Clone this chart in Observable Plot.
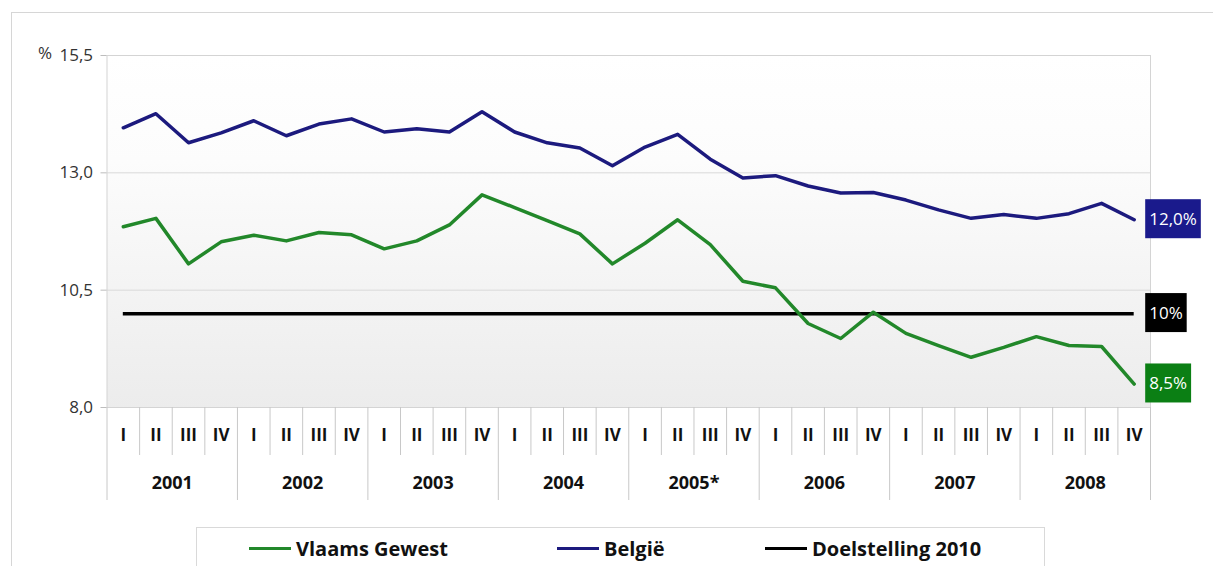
<!DOCTYPE html>
<html>
<head>
<meta charset="utf-8">
<script src="https://cdn.jsdelivr.net/npm/d3@7"></script>
<script src="https://cdn.jsdelivr.net/npm/@observablehq/plot@0.6"></script>
<style>
  html, body { margin: 0; padding: 0; background: #fff; }
  body { width: 1213px; height: 566px; overflow: hidden; position: relative; font-family: "Open Sans", sans-serif; }
  #frame { position: absolute; left: 11px; top: 12px; width: 1300px; height: 700px; border: 1.5px solid #d6d6d6; box-sizing: border-box; }
  #chart { position: absolute; left: 0; top: 0; }
  #legend { position: absolute; left: 196px; top: 527px; width: 849px; height: 60px; border: 1px solid #d9d9d9; box-sizing: border-box; background: #fff; }
  .item { position: absolute; top: 7px; display: flex; align-items: center; font-weight: bold; font-size: 20px; color: #111; }
  .swatch { width: 42px; height: 3.5px; margin-right: 5px; }
</style>
</head>
<body>
<div id="frame"></div>
<div id="chart"></div>
<div id="legend"></div>
<script>
// Quarterly series, 2001 Q1 – 2008 Q4 (percent)
const quarters = ["I", "II", "III", "IV"];
const years = ["2001", "2002", "2003", "2004", "2005*", "2006", "2007", "2008"];
const vlaamsGewest = [
  11.85, 12.03, 11.06, 11.53,
  11.67, 11.55, 11.73, 11.68,
  11.38, 11.55, 11.89, 12.53,
  12.26, 11.98, 11.70, 11.06,
  11.50, 12.00, 11.47, 10.69,
  10.55, 9.79, 9.47, 10.03,
  9.58, 9.32, 9.07, 9.28,
  9.51, 9.32, 9.30, 8.5
];
const belgie = [
  13.96, 14.26, 13.64, 13.85,
  14.11, 13.79, 14.04, 14.15,
  13.87, 13.94, 13.87, 14.30,
  13.87, 13.64, 13.53, 13.15,
  13.55, 13.82, 13.29, 12.89,
  12.94, 12.72, 12.57, 12.58,
  12.42, 12.21, 12.03, 12.11,
  12.03, 12.13, 12.35, 12.0
];
const doelstelling = 10;
const yTicks = [8, 10.5, 13, 15.5];

const seriesNames = ["Vlaams Gewest", "België", "Doelstelling 2010"];
const seriesColors = ["#22882a", "#1c1a7e", "#000000"];
const labelFills = ["#0b7f14", "#1a1a8c", "#000000"];

const comma = (v, digits) => v.toFixed(digits).replace(".", ",");

// long-format rows for the two measured series
const idx = d3.range(years.length * quarters.length);
const rows = [
  ...idx.map(i => ({i, value: vlaamsGewest[i], series: seriesNames[0]})),
  ...idx.map(i => ({i, value: belgie[i], series: seriesNames[1]}))
];
const last = idx.length - 1;

// value boxes at the right end of each line
const endLabels = [
  {value: belgie[last], text: comma(belgie[last], 1) + "%", fill: labelFills[1]},
  {value: doelstelling, text: comma(doelstelling, 0) + "%", fill: labelFills[2]},
  {value: vlaamsGewest[last], text: comma(vlaamsGewest[last], 1) + "%", fill: labelFills[0]}
];

// category boundaries: between quarters (short) and between years (long)
const quarterBounds = idx.filter(i => i % 4 !== 0).map(i => i - 0.5);
const yearBounds = d3.range(0, idx.length + 1, 4).map(i => i - 0.5);

const background = () => {
  const defs = d3.create("svg:defs");
  const g = defs.append("linearGradient").attr("id", "plotBg")
    .attr("x1", 0).attr("y1", 0).attr("x2", 0).attr("y2", 1);
  g.append("stop").attr("offset", "0%").attr("stop-color", "#ffffff");
  g.append("stop").attr("offset", "30%").attr("stop-color", "#fcfcfc");
  g.append("stop").attr("offset", "100%").attr("stop-color", "#ececec");
  return defs.node();
};

const chart = Plot.plot({
  width: 1213,
  height: 520,
  marginLeft: 106.5,
  marginRight: 63,
  marginTop: 55,
  marginBottom: 113,
  style: {fontFamily: "'Open Sans', sans-serif", color: "#222", background: "transparent", overflow: "visible"},
  x: {type: "linear", domain: [-0.5, idx.length - 0.5], axis: null},
  y: {domain: [8, 15.5], axis: null},
  color: {domain: seriesNames, range: seriesColors},
  marks: [
    background,
    Plot.frame({fill: "url(#plotBg)"}),
    Plot.gridY(yTicks, {stroke: "#d9d9d9", strokeOpacity: 1}),
    Plot.frame({stroke: "#d4d4d4"}),
    Plot.axisY(yTicks, {
      tickSize: 6, tickPadding: 8, stroke: "#bdbdbd", fill: "#333", fontSize: 17,
      tickFormat: d => comma(d, 1), label: null
    }),
    Plot.text(["%"], {frameAnchor: "top-left", dx: -69, dy: -9, fontSize: 17, fill: "#333"}),
    Plot.axisX(quarterBounds, {tickSize: 48, tickFormat: () => "", stroke: "#c8c8c8", label: null}),
    Plot.axisX(yearBounds, {tickSize: 93, tickFormat: () => "", stroke: "#c8c8c8", label: null}),
    Plot.text(idx, {
      x: d => d, frameAnchor: "bottom", dy: 33,
      text: d => quarters[d % 4], fontSize: 17, fontWeight: "bold", fill: "#111"
    }),
    Plot.text(years, {
      x: (d, k) => k * 4 + 1.5, frameAnchor: "bottom", dy: 81,
      text: d => d, fontSize: 18, fontWeight: "bold", fill: "#111"
    }),
    Plot.ruleY([doelstelling], {x1: 0, x2: last, stroke: seriesColors[2], strokeWidth: 3.5}),
    Plot.line(rows, {x: "i", y: "value", stroke: "series", strokeWidth: 3.5, strokeLinejoin: "round"}),
    Plot.text(endLabels, {
      x: last, y: "value", text: "text", dx: 15, textAnchor: "start",
      fill: "#fff", fontSize: 17, className: "end-label"
    })
  ]
});

document.getElementById("chart").append(chart);

// boxes behind the end-of-line value labels (same transform as their text)
d3.select(chart).selectAll(".end-label text").each(function(_, k) {
  const b = this.getBBox();
  d3.select(this.parentNode).insert("rect", () => this)
    .attr("transform", this.getAttribute("transform"))
    .attr("x", b.x - 4).attr("y", b.y + b.height / 2 - 19.5)
    .attr("width", b.width + 8).attr("height", 39)
    .attr("fill", endLabels[k].fill);
});

// legend
const legendPos = [52, 360, 568];
const legend = d3.select("#legend");
seriesNames.forEach((name, k) => {
  const item = legend.append("div").attr("class", "item").style("left", legendPos[k] + "px");
  item.append("div").attr("class", "swatch").style("background", seriesColors[k]);
  item.append("span").text(name);
});
</script>
</body>
</html>
